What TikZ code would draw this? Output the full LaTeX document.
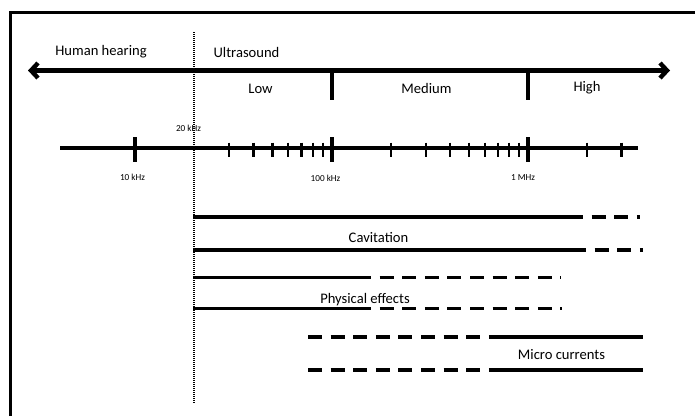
\documentclass[tikz,border=0pt]{standalone}
\usepackage{fontspec}
\setmainfont{Carlito}
\usetikzlibrary{arrows.meta}

\tikzset{
  lbl/.style={inner sep=0pt, font=\fontsize{14.6}{16}\selectfont},
  tinylbl/.style={inner sep=0pt, font=\fontsize{9.2}{11}\selectfont},
  band/.style={line width=3.4pt},
  banddash/.style={line width=3.4pt, dash pattern=on 14pt off 8.6pt},
  majortick/.style={line width=3.8pt},
  minortick/.style={line width=2.2pt},
  divider/.style={line width=3.4pt},
}

\begin{document}
\begin{tikzpicture}[x=1pt, y=-1pt]
\useasboundingbox (0,0) rectangle (695,416);

% frame (top and left edges)
\draw[line width=2.2pt] (10.5,416) -- (10.5,12.5) -- (695,12.5);

% main frequency arrow
\coordinate (arrL) at (28,70.5);
\coordinate (arrR) at (670,70.5);
\draw[line width=4.4pt, {Straight Barb[length=7pt,width=15pt]}-{Straight Barb[length=7pt,width=15pt]}] (arrL) -- (arrR);

% range dividers
\draw[divider] (332,70.5) -- (332,100);
\draw[divider] (528,70.5) -- (528,100);

% top labels
\node[lbl] (hh) at (101,52) {Human hearing};
\node[lbl] (us) at (246.5,52) {Ultrasound};
\node[lbl] (low) at (260.5,89) {Low};
\node[lbl] (med) at (426.5,88) {Medium};
\node[lbl] (high) at (587,88) {High};

% 20 kHz boundary
\draw[line width=2.2pt, dash pattern=on 1pt off 1pt] (194,32) -- (194,403);

% logarithmic scale
\draw[line width=3.4pt] (60,148) -- (638,148);
\foreach \x in {135,332,528}
  \draw[majortick] (\x,137) -- (\x,162);
\foreach \x in {229,253.5,272.5,288,301.5,313,323,
                391,426,450,469,485,498,509,519,
                587,621.5}
  \draw[minortick] (\x,142.5) -- (\x,157);

\node[tinylbl] (f10k) at (132.5,177.5) {10 kHz};
\node[tinylbl] (f20k) at (188.5,128) {20 kHz};
\node[tinylbl] (f100k) at (325.5,178.5) {100 kHz};
\node[tinylbl] (f1M) at (523,177.5) {1 MHz};

% cavitation band
\draw[band] (193,217) -- (569,217);
\draw[banddash] (569,217) -- (640,217);
\draw[band] (193,250) -- (572,250);
\draw[banddash] (572,250) -- (643,250);
\node[lbl] (cav) at (378.5,237.5) {Cavitation};

% physical effects band
\draw[band] (193,277.5) -- (357,277.5);
\draw[banddash] (357,277.5) -- (561,277.5);
\draw[band] (193,308.5) -- (357,308.5);
\draw[banddash] (357,308.5) -- (562,308.5);
\node[lbl] (phys) at (365,300) {Physical effects};

% micro currents band
\draw[banddash] (308,337) -- (497,337);
\draw[band] (497,337) -- (643,337);
\draw[banddash] (308,370) -- (497,370);
\draw[band] (497,370) -- (643,370);
\node[lbl] (micro) at (561.5,355) {Micro currents};
\end{tikzpicture}
\end{document}
